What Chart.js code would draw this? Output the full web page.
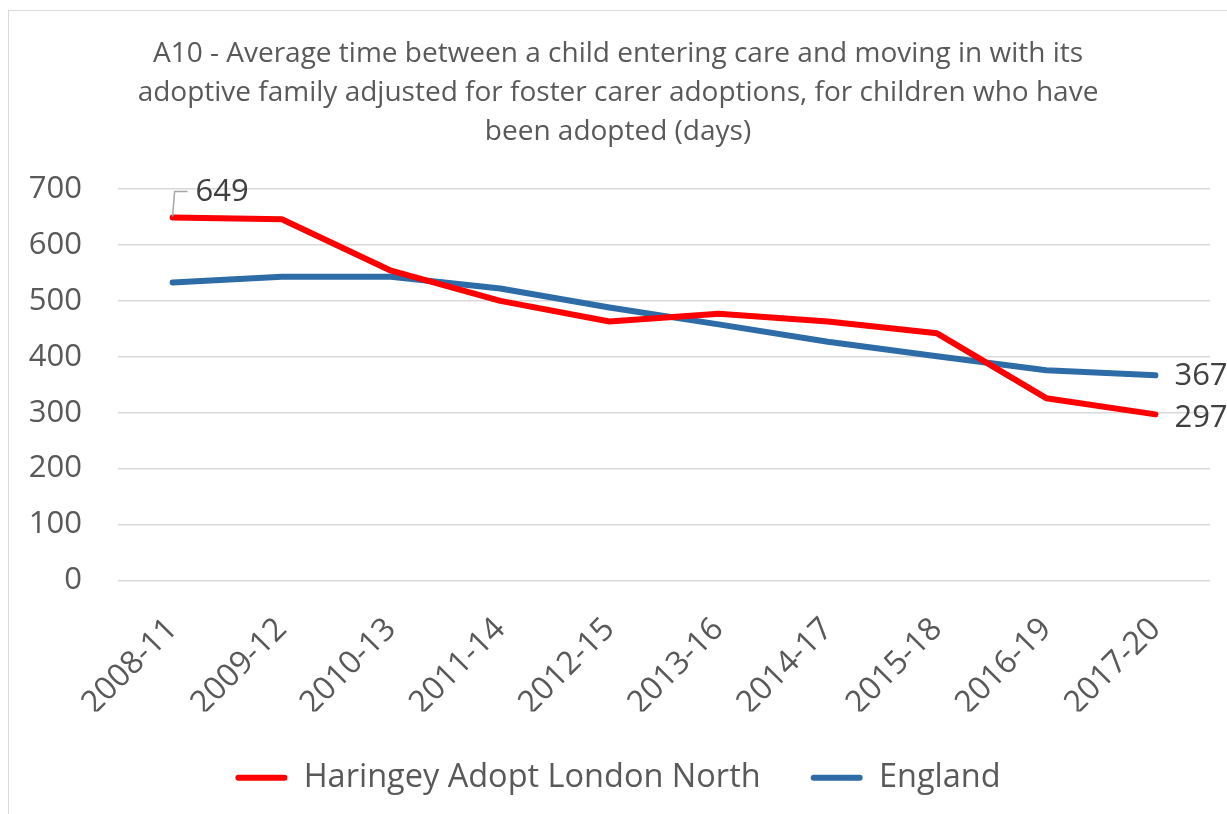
<!DOCTYPE html>
<html>
<head>
<meta charset="utf-8">
<script src="https://cdn.jsdelivr.net/npm/chart.js@4"></script>
<style>
html,body{margin:0;padding:0;background:#fff;overflow:hidden}
#wrap{position:relative;width:1227px;height:814px}
#frame{position:absolute;left:8px;top:10px;width:1240px;height:820px;border:1.5px solid #d9d9d9;box-sizing:border-box}
canvas{position:absolute;left:0;top:0}
</style>
</head>
<body>
<div id="wrap">
<div id="frame"></div>
<canvas id="chart" width="1227" height="814"></canvas>
</div>
<script>
// ===== data =====
const periods=["2008-11","2009-12","2010-13","2011-14","2012-15","2013-16","2014-17","2015-18","2016-19","2017-20"]
const haringey=[649,646,554,500,463,477,463,442,326,297]
const england=[533,543,543,522,488,458,427,401,376,367]
const titleLines=["A10 - Average time between a child entering care and moving in with its","adoptive family adjusted for foster carer adoptions, for children who have","been adopted (days)"]

const txt="#595959"
const fontName="'Open Sans', 'Liberation Sans', sans-serif"

// data labels: first point of Haringey (with leader line), last points of both
const labelPlugin={
id:"labels",
afterDatasetsDraw(c){
const ctx=c.ctx
ctx.save()
ctx.font="31px "+fontName
ctx.fillStyle="#404040"
ctx.textBaseline="middle"
ctx.textAlign="left"

// 649 with leader line
let p=c.getDatasetMeta(0).data[0]
ctx.strokeStyle="#a6a6a6"
ctx.lineWidth=1.5
ctx.beginPath()
ctx.moveTo(p.x,p.y-1)
ctx.lineTo(p.x+2,p.y-26)
ctx.lineTo(p.x+15,p.y-26)
ctx.stroke()
ctx.fillText(haringey[0],p.x+23,p.y-25)

let last=periods.length-1
let e=c.getDatasetMeta(1).data[last]
ctx.fillText(england[last],e.x+19,e.y+1)
let h=c.getDatasetMeta(0).data[last]
ctx.fillText(haringey[last],h.x+19,h.y+4)
ctx.restore()
}
}

new Chart(document.getElementById("chart"),{
type:"line",
data:{
labels:periods,
datasets:[
{label:"Haringey Adopt London North",data:haringey,borderColor:"#ff0000",backgroundColor:"#ff0000",borderWidth:6,pointRadius:0,borderCapStyle:"round",borderJoinStyle:"round",tension:0},
{label:"England",data:england,borderColor:"#2e6ca8",backgroundColor:"#2e6ca8",borderWidth:6,pointRadius:0,borderCapStyle:"round",borderJoinStyle:"round",tension:0}
]
},
options:{
responsive:false,
animation:false,
layout:{padding:{left:26,right:17,top:35,bottom:10}},
plugins:{
title:{display:true,text:titleLines,color:txt,font:{family:fontName,size:28,weight:"normal",lineHeight:1.393},padding:{top:0,bottom:37}},
legend:{
position:"bottom",
labels:{
color:txt,font:{family:fontName,size:32.5},boxWidth:52,boxHeight:6,padding:50,
useBorderRadius:true,borderRadius:3,
generateLabels(c){
return Chart.defaults.plugins.legend.labels.generateLabels(c).map(l=>({...l,lineWidth:0}))
}
}
},
tooltip:{enabled:false}
},
scales:{
x:{
offset:true,
grid:{display:false},
border:{display:false},
ticks:{color:txt,font:{family:fontName,size:32},minRotation:45,maxRotation:45,padding:22},
afterFit(s){s.height=131}
},
y:{
min:0,max:700,
grid:{color:"#d9d9d9",lineWidth:1.5,drawTicks:false},
border:{display:false},
ticks:{stepSize:100,color:txt,font:{family:fontName,size:31},padding:36},
afterFit(s){s.width=92}
}
}
},
plugins:[labelPlugin]
})
</script>
</body>
</html>
